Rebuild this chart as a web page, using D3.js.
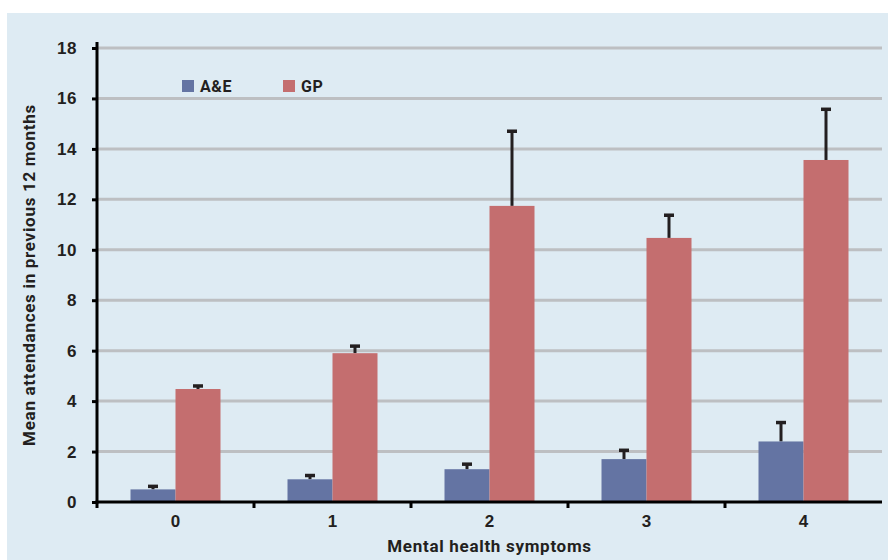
<!DOCTYPE html>
<html>
<head>
<meta charset="utf-8">
<script src="https://cdn.jsdelivr.net/npm/d3@7"></script>
<style>
  body { margin: 0; background: #fff; }
  svg { display: block; font-family: Roboto, "DejaVu Sans", sans-serif; }
  .tick text { font-weight: bold; fill: #231f20; }
</style>
</head>
<body>
<script>
var categories = ["0", "1", "2", "3", "4"];
var seriesNames = ["A&E", "GP"];
var aeMeans = [0.5, 0.9, 1.3, 1.7, 2.4];
var aeUpper = [0.62, 1.05, 1.5, 2.05, 3.15];
var gpMeans = [4.48, 5.9, 11.74, 10.47, 13.56];
var gpUpper = [4.6, 6.18, 14.7, 11.37, 15.57];
var yTicks = [0, 2, 4, 6, 8, 10, 12, 14, 16, 18];

var colors = { "A&E": "#6474a3", "GP": "#c46e6f" };

const width = 888, height = 560;
const margin = { left: 97, right: 6, top: 48, bottom: 58 };

var svg = d3.select("body").append("svg").attr("width", width).attr("height", height);

svg.append("rect")
  .attr("x", 7).attr("y", 13)
  .attr("width", width - 7).attr("height", height - 13)
  .attr("fill", "#deebf3");

const x = d3.scaleBand()
  .domain(categories)
  .range([margin.left, width - margin.right]);

const inner = d3.scaleBand()
  .domain(seriesNames)
  .range([0, 90]);

const y = d3.scaleLinear()
  .domain([0, 18])
  .range([height - margin.bottom, margin.top]);

// gridlines
svg.append("g")
  .selectAll("line")
  .data(yTicks.filter(d => d > 0))
  .enter()
  .append("line")
  .attr("x1", margin.left)
  .attr("x2", width - margin.right)
  .attr("y1", d => y(d))
  .attr("y2", d => y(d))
  .attr("stroke", "#bdbfc2")
  .attr("stroke-width", 3);

var rows = categories.map((c, i) => ({
  cat: c,
  values: [
    { key: "A&E", mean: aeMeans[i], upper: aeUpper[i] },
    { key: "GP", mean: gpMeans[i], upper: gpUpper[i] }
  ]
}));

var groups = svg.append("g")
  .selectAll("g")
  .data(rows)
  .enter()
  .append("g")
  .attr("transform", d => `translate(${x(d.cat) + (x.bandwidth() - 90) / 2}, 0)`);

// error bars drawn first so the bar covers the stem bottom
groups.selectAll("line.err")
  .data(d => d.values)
  .enter()
  .append("line")
  .attr("class", "err")
  .attr("x1", d => inner(d.key) + inner.bandwidth() / 2)
  .attr("x2", d => inner(d.key) + inner.bandwidth() / 2)
  .attr("y1", d => y(d.mean))
  .attr("y2", d => y(d.upper))
  .attr("stroke", "#231f20")
  .attr("stroke-width", 3);

groups.selectAll("line.cap")
  .data(d => d.values)
  .enter()
  .append("line")
  .attr("class", "cap")
  .attr("x1", d => inner(d.key) + inner.bandwidth() / 2 - 5)
  .attr("x2", d => inner(d.key) + inner.bandwidth() / 2 + 5)
  .attr("y1", d => y(d.upper))
  .attr("y2", d => y(d.upper))
  .attr("stroke", "#231f20")
  .attr("stroke-width", 3.5);

groups.selectAll("rect")
  .data(d => d.values)
  .enter()
  .append("rect")
  .attr("x", d => inner(d.key))
  .attr("width", inner.bandwidth())
  .attr("y", d => y(d.mean))
  .attr("height", d => y(0) - y(d.mean))
  .attr("fill", d => colors[d.key]);

// y axis
var yAxis = d3.axisLeft(y).tickValues(yTicks).tickSize(5).tickPadding(15);
var gy = svg.append("g")
  .attr("transform", `translate(${margin.left}, 0)`)
  .call(yAxis);
gy.select(".domain").attr("stroke", "#000").attr("stroke-width", 3)
  .attr("d", `M0,${y(18) - 6}V${y(0) + 1.5}`);
gy.selectAll(".tick line").attr("stroke", "#000").attr("stroke-width", 3);
gy.selectAll(".tick text").attr("font-size", 17).attr("letter-spacing", 0.5);

// x axis
var xAxis = d3.axisBottom(x).tickSize(0).tickPadding(13);
var gx = svg.append("g")
  .attr("transform", `translate(0, ${y(0)})`)
  .call(xAxis);
gx.select(".domain").attr("stroke", "#000").attr("stroke-width", 3)
  .attr("d", `M${margin.left - 1.5},0H${width - margin.right}`);
gx.selectAll(".tick text").attr("font-size", 17);

// boundary ticks between categories
svg.append("g")
  .selectAll("line")
  .data(categories)
  .enter()
  .append("line")
  .attr("x1", d => x(d))
  .attr("x2", d => x(d))
  .attr("y1", y(0))
  .attr("y2", y(0) + 6)
  .attr("stroke", "#000")
  .attr("stroke-width", 3);

// axis titles
svg.append("text")
  .attr("x", (margin.left + width - margin.right) / 2)
  .attr("y", 552)
  .attr("text-anchor", "middle")
  .attr("font-size", 17)
  .attr("letter-spacing", 0.7)
  .attr("font-weight", "bold")
  .attr("fill", "#231f20")
  .text("Mental health symptoms");

svg.append("text")
  .attr("transform", `translate(35, ${(y(0) + y(18)) / 2}) rotate(-90)`)
  .attr("text-anchor", "middle")
  .attr("font-size", 17)
  .attr("letter-spacing", 0.7)
  .attr("font-weight", "bold")
  .attr("fill", "#231f20")
  .text("Mean attendances in previous 12 months");

// legend
var legend = svg.append("g")
  .selectAll("g")
  .data(seriesNames)
  .enter()
  .append("g")
  .attr("transform", (d, i) => `translate(${182 + i * 101}, 80)`);
legend.append("rect")
  .attr("width", 12).attr("height", 12)
  .attr("fill", d => colors[d]);
legend.append("text")
  .attr("x", 18).attr("y", 12)
  .attr("font-size", 16)
  .attr("letter-spacing", 0.6)
  .attr("font-weight", "bold")
  .attr("fill", "#231f20")
  .text(d => d);
</script>
</body>
</html>
